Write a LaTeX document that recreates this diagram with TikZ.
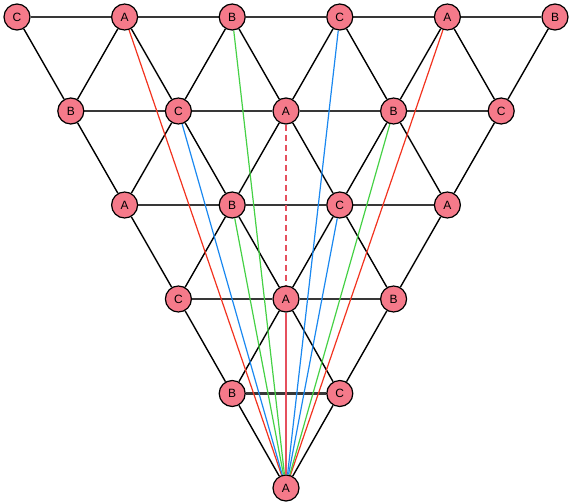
\documentclass[tikz,border=0pt]{standalone}
\usepackage{fontspec}
\setmainfont{Liberation Sans}
\usetikzlibrary{backgrounds}
\definecolor{sitepink}{HTML}{F57A8A}
\definecolor{linkred}{HTML}{F2331F}
\definecolor{linkgreen}{HTML}{45D145}
\definecolor{linkblue}{HTML}{1A88F0}
\definecolor{axisred}{HTML}{E5505E}

\begin{document}
\begin{tikzpicture}[x=1pt,y=-1pt,
  site/.style={circle,draw=black,line width=1.2pt,fill=sitepink,minimum size=26pt,inner sep=0pt,font=\fontsize{12}{14}\selectfont},
  rung/.style={draw=black!78,line width=2.2pt},
  side/.style={draw=black,line width=1.4pt},
  link/.style={line width=1.2pt}]
\useasboundingbox (0,0) rectangle (571,503);
% row 0
\node[site] (p00) at (17,17) {C};
\node[site] (p01) at (124.6,17) {A};
\node[site] (p02) at (232.2,17) {B};
\node[site] (p03) at (339.8,17) {C};
\node[site] (p04) at (447.4,17) {A};
\node[site] (p05) at (555,17) {B};
% row 1
\node[site] (p10) at (70.8,111) {B};
\node[site] (p11) at (178.4,111) {C};
\node[site] (p12) at (286,111) {A};
\node[site] (p13) at (393.6,111) {B};
\node[site] (p14) at (501.2,111) {C};
% row 2
\node[site] (p20) at (124.6,205) {A};
\node[site] (p21) at (232.2,205) {B};
\node[site] (p22) at (339.8,205) {C};
\node[site] (p23) at (447.4,205) {A};
% row 3
\node[site] (p30) at (178.4,299) {C};
\node[site] (p31) at (286,299) {A};
\node[site] (p32) at (393.6,299) {B};
% row 4
\node[site] (p40) at (232.2,393.5) {B};
\node[site] (p41) at (339.8,393.5) {C};
% row 5
\node[site] (p50) at (286,488) {A};
\begin{scope}[on background layer]
% lattice
\draw[side] (p00)--(p10)--(p01)--(p11)--(p02)--(p12)--(p03)--(p13)--(p04)--(p14)--(p05);
\draw[side] (p10)--(p20)--(p11)--(p21)--(p12)--(p22)--(p13)--(p23)--(p14);
\draw[side] (p20)--(p30)--(p21)--(p31)--(p22)--(p32)--(p23);
\draw[side] (p30)--(p40)--(p31)--(p41)--(p32);
\draw[side] (p40)--(p50)--(p41);
\draw[rung] (p00)--(p01)--(p02)--(p03)--(p04)--(p05);
\draw[rung] (p10)--(p11)--(p12)--(p13)--(p14);
\draw[rung] (p20)--(p21)--(p22)--(p23);
\draw[rung] (p30)--(p31)--(p32);
\draw[rung] (p40)--(p41);
% links to the bottom site
\draw[link,linkred] (p01)--(p50);
\draw[link,linkred] (p04)--(p50);
\draw[link,linkgreen] (p02)--(p50);
\draw[link,linkgreen] (p21)--(p50);
\draw[link,linkgreen] (p13)--(p50);
\draw[link,linkblue] (p11)--(p50);
\draw[link,linkblue] (p03)--(p50);
\draw[link,linkblue] (p22)--(p50);
\draw[axisred,line width=2pt,dash pattern=on 6pt off 4pt] (p12)--(p31);
\draw[axisred,line width=2pt] (p31)--(p50);
\end{scope}
\end{tikzpicture}
\end{document}
